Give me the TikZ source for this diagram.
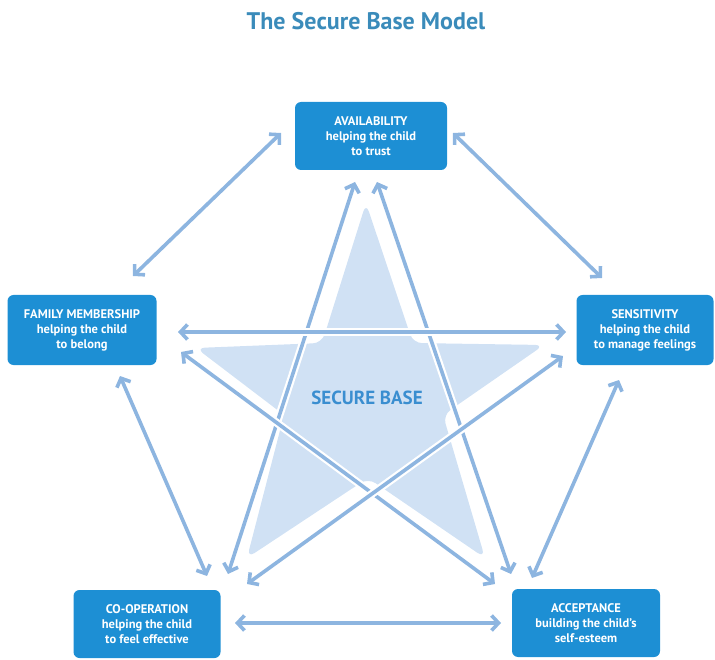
\documentclass[tikz,border=0pt]{standalone}
\usepackage{fontspec}
\setmainfont{PT Sans}
\usetikzlibrary{arrows.meta}
\definecolor{boxblue}{HTML}{1D8FD4}
\definecolor{arrowblue}{HTML}{8DB5E0}
\definecolor{starblue}{HTML}{D0E1F4}
\definecolor{titleblue}{HTML}{3A8BBA}
\definecolor{securetext}{HTML}{3A8ED0}
\tikzset{
  box/.style={fill=boxblue, rounded corners=6pt, text=white, align=center,
    font=\bfseries\fontsize{12.5}{15}\selectfont, inner sep=0pt},
  link/.style={arrowblue, line width=3.6pt,
    {Straight Barb[length=7pt,width=15pt]}-{Straight Barb[length=7pt,width=15pt]},
    preaction={draw=white, line width=8pt, arrows=-, shorten <=3pt, shorten >=3pt}},
}
\begin{document}
\begin{tikzpicture}[x=1pt,y=-1pt]
\useasboundingbox (0,0) rectangle (715,660);
\node[font=\bfseries\fontsize{24}{28}\selectfont, text=titleblue] (title) at (366,21) {The Secure Base Model};
% star
\fill[starblue, rounded corners=9pt] (366,203) -- (413,343) -- (544,345) -- (443,415) -- (485,558) -- (368,478) -- (247,558) -- (284,415) -- (196,348) -- (322,343) -- cycle;
\node[font=\bfseries\fontsize{19}{22}\selectfont, text=securetext] (sb) at (367,398) {SECURE BASE};
% boxes
\node[box, minimum width=152pt, minimum height=68pt] (av) at (371,136) {AVAILABILITY\\helping the child\\to trust};
\node[box, minimum width=149pt, minimum height=70pt] (fm) at (82,330) {FAMILY MEMBERSHIP\\helping the child\\to belong};
\node[box, minimum width=137pt, minimum height=70pt] (se) at (645,330) {SENSITIVITY\\helping the child\\to manage feelings};
\node[box, minimum width=147pt, minimum height=68pt] (co) at (147,624) {CO-OPERATION\\helping the child\\to feel effective};
\node[box, minimum width=148pt, minimum height=68pt] (ac) at (586,623) {ACCEPTANCE\\building the child's\\self-esteem};
% arrow ends
\coordinate (av-fm) at (281,133); \coordinate (fm-av) at (133,276);
\coordinate (av-se) at (453,133); \coordinate (se-av) at (602,278);
\coordinate (fm-se) at (178,332); \coordinate (se-fm) at (566,332);
\coordinate (fm-ac) at (181,352); \coordinate (ac-fm) at (495,584);
\coordinate (fm-co) at (120,376); \coordinate (co-fm) at (207,576);
\coordinate (av-co) at (355,182); \coordinate (co-av) at (228,574);
\coordinate (av-ac) at (377,182); \coordinate (ac-av) at (511,574);
\coordinate (se-co) at (563,356); \coordinate (co-se) at (247,584);
\coordinate (se-ac) at (619,380); \coordinate (ac-se) at (532,578);
\coordinate (co-ac) at (235,623); \coordinate (ac-co) at (501,623);
% connectors
\draw[link] (av-fm) -- (fm-av);
\draw[link] (av-se) -- (se-av);
\draw[link] (fm-co) -- (co-fm);
\draw[link] (se-ac) -- (ac-se);
\draw[link] (co-ac) -- (ac-co);
\draw[link] (av-co) -- (co-av);
\draw[link] (av-ac) -- (ac-av);
\draw[link] (fm-se) -- (se-fm);
\draw[link] (fm-ac) -- (ac-fm);
\draw[link] (se-co) -- (co-se);
\end{tikzpicture}
\end{document}
